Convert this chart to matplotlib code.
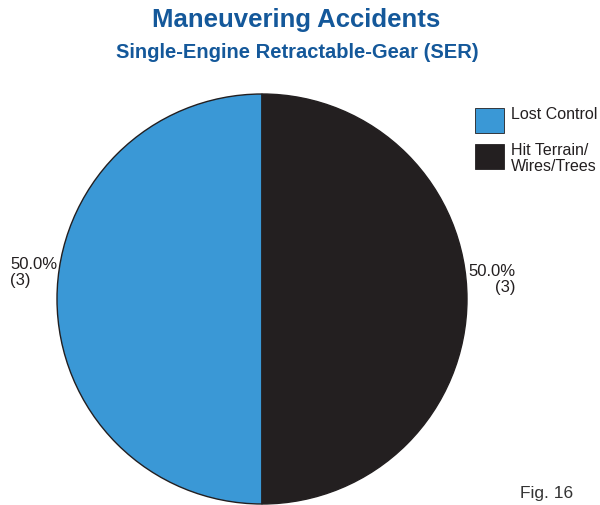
import matplotlib.pyplot as plt
from matplotlib.patches import Rectangle

plt.rcParams['font.family'] = ['Liberation Sans', 'DejaVu Sans']

categories = ["Lost Control", "Hit Terrain/\nWires/Trees"]
counts = [3, 3]
colors = ["#3a98d6", "#231f20"]

W, H = 600, 506
fig = plt.figure(figsize=(W / 100, H / 100), dpi=100)

# pie axes: center (262, 300) px from top-left, radius 205 px
cx, cy, r = 262, 300, 205
ax = fig.add_axes([(cx - r) / W, (H - cy - r) / H, 2 * r / W, 2 * r / H])
ax.pie(counts, colors=colors, startangle=90, counterclock=True,
       wedgeprops=dict(edgecolor="#231f20", linewidth=1.0))
ax.set_xlim(-1, 1)
ax.set_ylim(-1, 1)
ax.set_aspect("equal")
ax.axis("off")

total = sum(counts)
labels = ["%.1f%%\n(%d)" % (100.0 * c / total, c) for c in counts]
fig.text(10 / W, 1 - 257 / H, labels[0], ha="left", va="top",
         fontsize=12, color="#231f20", linespacing=1.05)
fig.text(516 / W, 1 - 264 / H, labels[1], ha="right", va="top",
         fontsize=12, color="#231f20", linespacing=1.05, multialignment="right")

# titles
fig.text(296 / W, 1 - 20 / H, "Maneuvering Accidents", ha="center", va="center",
         fontsize=18.5, fontweight="bold", color="#14589a")
fig.text(297 / W, 1 - 53 / H, "Single-Engine Retractable-Gear (SER)", ha="center",
         va="center", fontsize=14.5, fontweight="bold", color="#14589a")

# legend
ys = [109, 145]
for y, lab, col in zip(ys, categories, colors):
    fig.patches.append(Rectangle((475 / W, 1 - (y + 25) / H), 29 / W, 25 / H,
                                 transform=fig.transFigure, facecolor=col,
                                 edgecolor="#231f20", linewidth=0.6))
    fig.text(511 / W, 1 - (y - 2) / H, lab, ha="left", va="top",
             fontsize=11.5, color="#231f20", linespacing=1.05)

fig.text(520 / W, 1 - 494 / H, "Fig. 16", ha="left", va="center",
         fontsize=12.5, color="#333333")

fig.savefig("out.png", dpi=100)
